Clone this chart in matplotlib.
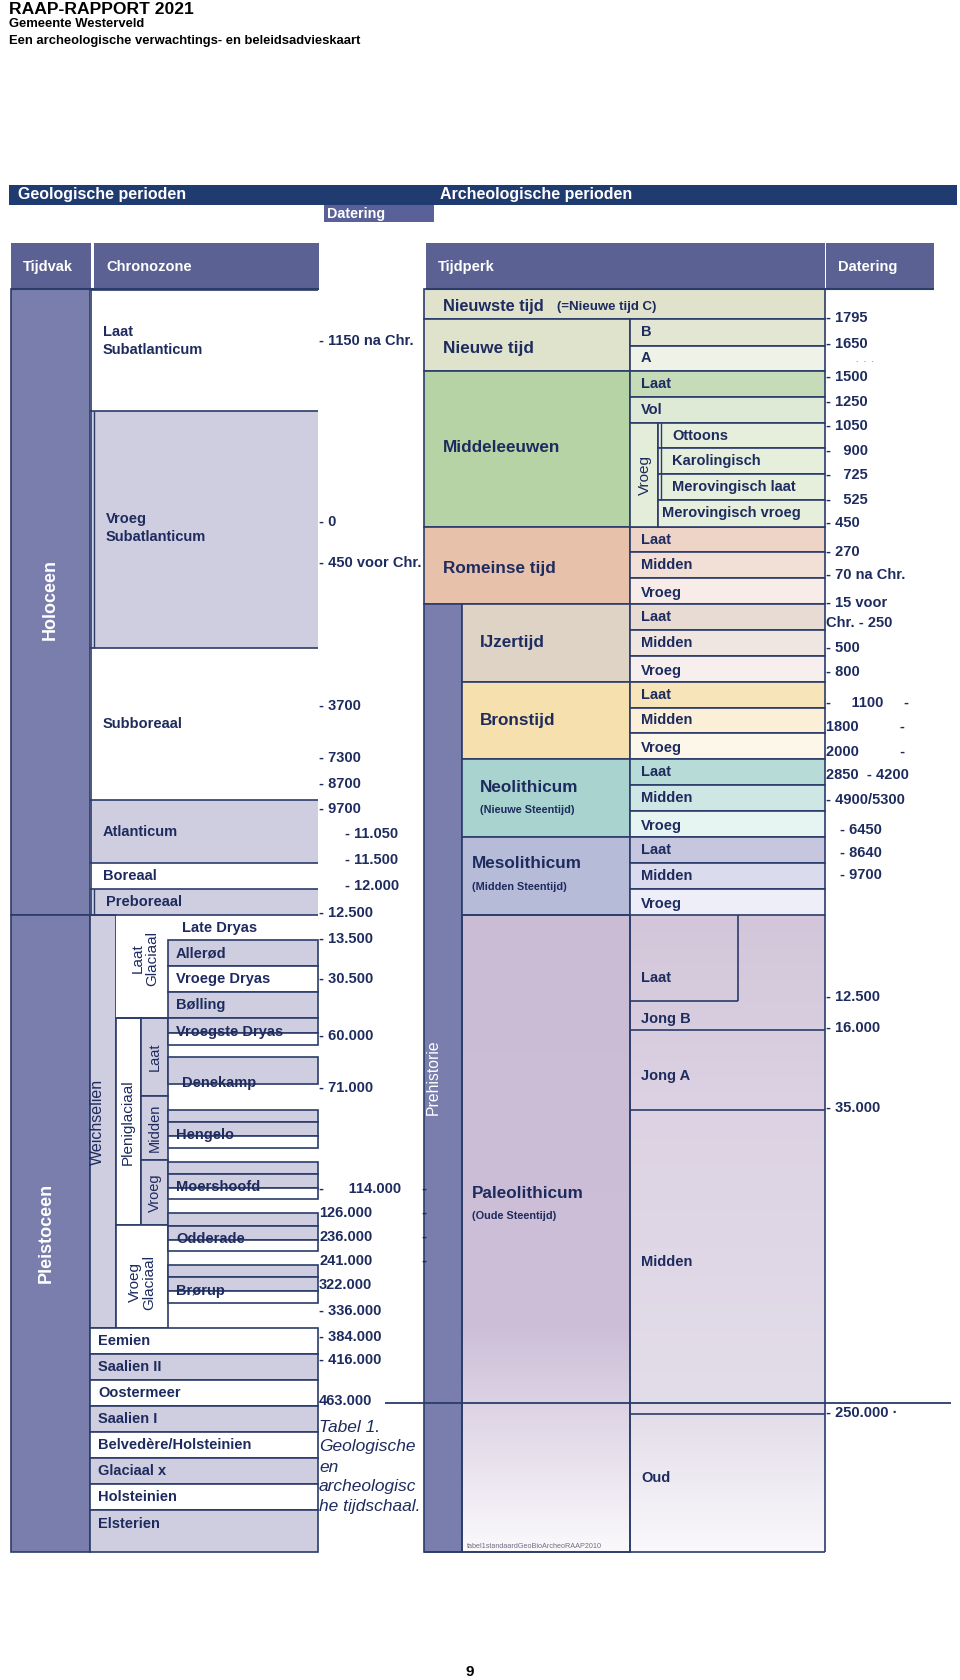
import numpy as np
import matplotlib.pyplot as plt
from matplotlib.patches import Rectangle
from matplotlib.colors import to_rgb

plt.rcParams['font.family'] = ['Liberation Sans', 'DejaVu Sans']

# ---------------- content ----------------
title_lines = ['RAAP-RAPPORT 2021', 'Gemeente Westerveld',
               'Een archeologische verwachtings- en beleidsadvieskaart']

tijdvak = ['Holoceen', 'Pleistoceen']

holo_zones = ['Laat\nSubatlanticum', 'Vroeg\nSubatlanticum', 'Subboreaal',
              'Atlanticum', 'Boreaal', 'Preboreaal']
stadials = ['Late Dryas', 'Allerød', 'Vroege Dryas', 'Bølling', 'Vroegste Dryas',
            'Denekamp', 'Hengelo', 'Moershoofd', 'Odderade', 'Brørup']
older_zones = ['Eemien', 'Saalien II', 'Oostermeer', 'Saalien I',
               'Belvedère/Holsteinien', 'Glaciaal x', 'Holsteinien', 'Elsterien']

geo_dates = ['- 1150 na Chr.', '- 0', '- 450 voor Chr.', '- 3700', '- 7300', '- 8700',
             '- 9700', '- 11.050', '- 11.500', '- 12.000', '- 12.500', '- 13.500',
             '- 30.500', '- 60.000', '- 71.000', '-      114.000', '126.000', '236.000',
             '241.000', '322.000', '- 336.000', '- 384.000', '- 416.000', '463.000']

arch_top = ['Nieuwe tijd', 'Middeleeuwen', 'Romeinse tijd']
arch_pre = ['IJzertijd', 'Bronstijd', 'Neolithicum', 'Mesolithicum', 'Paleolithicum']
arch_pre_sub = ['', '', '(Nieuwe Steentijd)', '(Midden Steentijd)', '(Oude Steentijd)']
arch_sub = ['B', 'A', 'Laat', 'Vol',
            'Laat', 'Midden', 'Vroeg',
            'Laat', 'Midden', 'Vroeg',
            'Laat', 'Midden', 'Vroeg',
            'Laat', 'Midden', 'Vroeg',
            'Laat', 'Midden', 'Vroeg']
early_ma = ['Ottoons', 'Karolingisch', 'Merovingisch laat', 'Merovingisch vroeg']
paleo_sub = ['Laat', 'Jong B', 'Jong A', 'Midden', 'Oud']

arch_dates = ['- 1795', '- 1650', '·  ·  ·', '- 1500', '- 1250', '- 1050', '-   900',
              '-   725', '-   525', '- 450', '- 270', '- 70 na Chr.', '- 15 voor',
              'Chr. - 250', '- 500', '- 800', '-     1100     -', '1800          -',
              '2000          -', '2850  - 4200', '- 4900/5300', '- 6450', '- 8640',
              '- 9700', '- 12.500', '- 16.000', '- 35.000', '- 250.000 ·']

caption = ['Tabel 1.', 'Geologische', 'en', 'archeologisc', 'he tijdschaal.']

# ---------------- layout (pixel rows) ----------------
holo_rows = [290, 411, 648, 800, 863, 889, 915]
holo_label_y = [341, 528, 724, 832, 876, 902]
stadial_boxes = [(940, 966, 1), (966, 992, 0), (992, 1018, 1), (1018, 1033, 1),
                 (1033, 1045, 0), (1057, 1084, 1), (1110, 1122, 1), (1122, 1136, 1),
                 (1136, 1148, 0), (1162, 1174, 1), (1174, 1188, 1), (1188, 1199, 0),
                 (1213, 1226, 1), (1226, 1240, 1), (1240, 1251, 0), (1265, 1277, 1),
                 (1277, 1291, 1), (1291, 1303, 0)]
stadial_label_y = [928, 953, 979, 1005, 1032, 1083, 1135, 1187, 1239, 1291]
older_rows = [1328, 1354, 1380, 1406, 1432, 1458, 1484, 1510, 1552]
geo_date_y = [341, 522, 563, 706, 758, 784, 809, 834, 860, 886, 913, 939, 979, 1036,
              1088, 1189, 1213, 1237, 1261, 1285, 1311, 1337, 1360, 1401]
arch_top_rows = [319, 371, 527, 604]
arch_top_y = [348, 447, 568]
arch_pre_rows = [604, 682, 759, 837, 915, 1552]
arch_pre_y = [643, 720, 787, 864, 1193]
arch_sub_rows = [(319, 346), (346, 371), (371, 397), (397, 423),
                 (527, 552), (552, 578), (578, 604),
                 (604, 630), (630, 656), (656, 682),
                 (682, 708), (708, 733), (733, 759),
                 (759, 785), (785, 811), (811, 837),
                 (837, 863), (863, 889), (889, 915)]
early_rows = [423, 448, 474, 500, 527]
paleo_label_y = [978, 1019, 1076, 1262, 1478]
arch_date_y = [318, 344, 363, 377, 402, 426, 451, 475, 500, 523, 552, 575, 603, 623,
               648, 672, 703, 727, 752, 775, 800, 830, 853, 875, 997, 1028, 1108, 1413]
caption_y = [1427, 1447, 1467, 1487, 1507]

# ---------------- styles ----------------
DARK = '#1f3b70'
HEAD = '#5b6293'
TVAK = '#7a7eac'
LAV = '#cfcee0'
EDGE = '#2b3c6a'
TXT = '#1e2b5e'
top_fill = ['#dfe3cc', '#b6d3a5', '#e8c1ab']
pre_fill = ['#ded3c5', '#f6e0ad', '#a8d3cf', '#b6bbd8']
sub_fill = ['#e3e6d2', '#eff2e7', '#c6dcb8', '#dee9d6',
            '#edd4c7', '#f2dfd6', '#f7ece7',
            '#e7dbd4', '#efe6e1', '#f6efed',
            '#f7e4b9', '#fbefd8', '#fdf7ea',
            '#b7dbd6', '#cfe7e4', '#e6f4f2',
            '#c6c7df', '#dadbec', '#edeef7']

fig = plt.figure(figsize=(9.6, 16.8), dpi=100)
ax = fig.add_axes([0, 0, 1, 1])


def cell(x0, y0, x1, y1, fc, ec=EDGE, lw=1.2, z=1):
    ax.add_patch(Rectangle((x0, y0), x1 - x0, y1 - y0, facecolor=fc,
                           edgecolor=ec, linewidth=lw, zorder=z))


def hline(y, x0, x1, lw=1.2, z=2):
    ax.plot([x0, x1], [y, y], color=EDGE, lw=lw, zorder=z, solid_capstyle='butt')


def vline(x, y0, y1, lw=1.2, z=2):
    ax.plot([x, x], [y0, y1], color=EDGE, lw=lw, zorder=z, solid_capstyle='butt')


def label(x, y, s, size=10.5, weight='bold', color=TXT, **kw):
    ax.text(x, y, s, fontsize=size, fontweight=weight, color=color,
            va='center', ha=kw.pop('ha', 'left'), zorder=kw.pop('zorder', 4), **kw)


def gradient(x0, x1, y0, y1, stops):
    ys = np.linspace(y0, y1, 300)
    cols = np.array([to_rgb(c) for _, c in stops])
    pos = [p for p, _ in stops]
    arr = np.stack([np.interp(ys, pos, cols[:, k]) for k in range(3)], axis=-1)
    ax.imshow(arr[:, None, :], extent=(x0, x1, y1, y0), aspect='auto',
              zorder=0.5, interpolation='bilinear')


# ---------------- titles ----------------
label(9, 9, title_lines[0], size=12.6, color='black')
label(9, 24, title_lines[1], size=9.4, color='black')
label(9, 41, title_lines[2], size=9.4, color='black')

ax.add_patch(Rectangle((9, 185), 948, 20, facecolor=DARK, edgecolor='none'))
label(18, 195, 'Geologische perioden', size=11.5, color='white')
label(440, 195, 'Archeologische perioden', size=11.5, color='white')
ax.add_patch(Rectangle((324, 205), 110, 17, facecolor='#5a6199', edgecolor='none'))
label(327, 214, 'Datering', size=10.3, color='white')

for x0, x1, s in [(11, 91, 'Tijdvak'), (94, 319, 'Chronozone'),
                  (426, 825, 'Tijdperk'), (826, 934, 'Datering')]:
    ax.add_patch(Rectangle((x0, 243), x1 - x0, 46, facecolor=HEAD, edgecolor='none'))
    label(x0 + 12, 267, s, size=10.5, color='white')
hline(289, 11, 319, lw=1.5)
hline(289, 426, 934, lw=1.5)

# ---------------- geology ----------------
cell(11, 289, 90, 915, TVAK)
cell(11, 915, 90, 1552, TVAK)
label(50, 600, tijdvak[0], size=13, color='white', rotation=90, ha='center')
label(46, 1233, tijdvak[1], size=13, color='white', rotation=90, ha='center')

for i, s in enumerate(holo_zones):
    y0, y1 = holo_rows[i], holo_rows[i + 1]
    ax.add_patch(Rectangle((90, y0), 228, y1 - y0,
                           facecolor=LAV if i % 2 else 'white', edgecolor='none', zorder=1))
    hline(y0, 90, 318)
    label(103 if i not in (1, 5) else 106, holo_label_y[i], s, linespacing=1.3)
hline(915, 90, 318)
vline(91, 290, 915)
vline(94, 411, 648, lw=1)
vline(94, 889, 915, lw=1)

# Weichselien block
cell(90, 915, 116, 1328, LAV)
label(97, 1122, 'Weichselien', size=11.5, weight='normal', rotation=90, ha='center')
cell(116, 915, 168, 1018, 'white', ec='none')
hline(1018, 116, 168)
label(145, 958, 'Laat\nGlaciaal', size=11, weight='normal', rotation=90,
      ha='center', linespacing=1.0)
cell(116, 1018, 141, 1225, 'white')
label(128, 1122, 'Pleniglaciaal', size=11, weight='normal', rotation=90, ha='center')
for (y0, y1), s in zip([(1018, 1096), (1096, 1160), (1160, 1225)],
                       ['Laat', 'Midden', 'Vroeg']):
    cell(141, y0, 168, y1, LAV)
    label(154.5, (y0 + y1) / 2, s, size=10.5, weight='normal', rotation=90, ha='center')
cell(116, 1225, 168, 1328, 'white')
label(142, 1282, 'Vroeg\nGlaciaal', size=11, weight='normal', rotation=90,
      ha='center', linespacing=1.0)

for y0, y1, f in stadial_boxes:
    cell(168, y0, 318, y1, LAV if f else 'white')
for i, s in enumerate(stadials):
    label(182 if i in (0, 5) else 176, stadial_label_y[i], s)

for i, s in enumerate(older_zones):
    y0, y1 = older_rows[i], older_rows[i + 1]
    cell(90, y0, 318, y1, LAV if i % 2 else 'white')
    label(98, y0 + 13 if i < 7 else 1524, s)

for s, y in zip(geo_dates, geo_date_y):
    x = 345 if s in ('- 11.050', '- 11.500', '- 12.000') else 319
    label(x, y, s)
for y in geo_date_y[15:19]:
    label(421, y, '-')

# ---------------- archaeology ----------------
cell(424, 289, 825, 319, '#e0e2cc')
label(443, 306, 'Nieuwste tijd', size=11.8)
label(557, 307, '(=Nieuwe tijd C)', size=9.5)

for i, s in enumerate(arch_top):
    cell(424, arch_top_rows[i], 630, arch_top_rows[i + 1], top_fill[i])
    label(443, arch_top_y[i], s, size=12.3)

cell(424, 604, 462, 1552, TVAK)
label(433, 1077, 'Prehistorie', size=11.3, weight='normal', color='white',
      rotation=90, ha='center')

gradient(462, 630, 915, 1552, [(915, '#cbbcd5'), (1330, '#cdbfd8'), (1552, '#fbf9fc')])
gradient(630, 825, 915, 1552, [(915, '#d3c6da'), (1110, '#dcd2e3'), (1414, '#e3dde9'),
                               (1552, '#faf8fb')])
for i, s in enumerate(arch_pre):
    y0, y1 = arch_pre_rows[i], arch_pre_rows[i + 1]
    cell(462, y0, 630, y1, pre_fill[i] if i < 4 else 'none')
    x = 480 if i < 3 else 472
    label(x, arch_pre_y[i], s, size=12.3)
    if arch_pre_sub[i]:
        label(x, arch_pre_y[i] + 23, arch_pre_sub[i], size=7.8)

for (y0, y1), s, f in zip(arch_sub_rows, arch_sub, sub_fill):
    cell(630, y0, 825, y1, f)
    label(641, (y0 + y1) / 2 + (2 if s == 'Vroeg' else 0), s)

cell(630, 423, 658, 527, '#e4edda')
label(645, 475, 'Vroeg', size=11, weight='normal', rotation=90, ha='center')
for i, s in enumerate(early_ma):
    cell(658, early_rows[i], 825, early_rows[i + 1], '#e6eedc')
    label(672 if i < 3 else 662, (early_rows[i] + early_rows[i + 1]) / 2, s)
vline(661, 423, 500, lw=1)

# Paleolithic subdivisions
vline(630, 915, 1552)
vline(825, 915, 1552)
vline(738, 915, 1001)
hline(1001, 630, 738)
hline(1030, 630, 825)
hline(1110, 630, 825)
hline(1414, 630, 825)
hline(1552, 424, 825)
for s, y in zip(paleo_sub, paleo_label_y):
    label(641, y, s)
hline(1403, 385, 951, lw=1.3, z=3)
label(467, 1546, 'tabel1standaardGeoBioArcheoRAAP2010', size=5.2, weight='normal',
      color='#6d6f85')

for s, y in zip(arch_dates, arch_date_y):
    x = 840 if s in ('- 6450', '- 8640', '- 9700') else 826
    if s.startswith('·'):
        label(856, y, s, size=6, color='#888888')
    else:
        label(x, y, s)

for s, y in zip(caption, caption_y):
    label(319, y, s, size=12.5, weight='normal', style='italic')

label(470, 1672, '9', size=11, color='black', ha='center')

ax.set_xlim(0, 960)
ax.set_ylim(1680, 0)
ax.axis('off')
fig.savefig('out.png', dpi=100, facecolor='white')
